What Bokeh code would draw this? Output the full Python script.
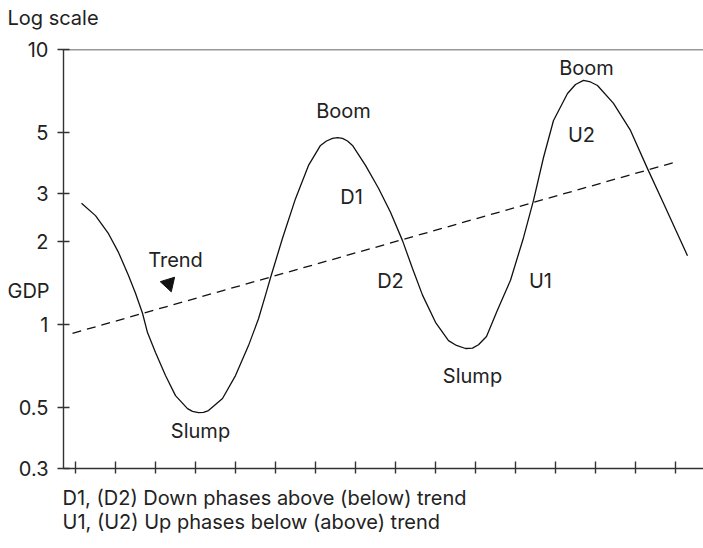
from bokeh.plotting import figure
from bokeh.models import FixedTicker, Span, Label, Range1d
from bokeh.embed import file_html
from bokeh.resources import INLINE

# ---- data (x in time units, y = GDP, log scale) ----
gdp_x = [0.15, 0.5, 0.825, 1.075, 1.325, 1.5, 1.675, 1.8, 2.0, 2.25, 2.5, 2.8, 2.925,
         3.075, 3.2, 3.325, 3.675, 4.0, 4.325, 4.575, 4.75, 4.875, 5.175, 5.5, 5.825,
         6.125, 6.275, 6.425, 6.55, 6.675, 6.8, 6.925, 7.25, 7.575, 7.875, 8.175, 8.425,
         8.675, 9.0, 9.325, 9.525, 9.75, 9.925, 10.075, 10.275, 10.55, 10.875, 11.2,
         11.45, 11.7, 11.95, 12.3, 12.5, 12.7, 12.875, 13.05, 13.45, 13.875, 14.3, 14.7,
         15.3]
gdp_y = [2.76, 2.49, 2.14, 1.83, 1.51, 1.30, 1.10, 0.936, 0.792, 0.653, 0.552, 0.495, 0.484,
         0.479, 0.480, 0.487, 0.539, 0.653, 0.839, 1.05, 1.28, 1.48, 2.06, 2.87, 3.79,
         4.48, 4.65, 4.75, 4.78, 4.75, 4.65, 4.48, 3.79, 3.13, 2.56, 2.02, 1.60,
         1.28, 1.02, 0.875, 0.840, 0.819, 0.822, 0.845, 0.905, 1.13, 1.45, 2.07,
         2.83, 4.05, 5.52, 6.92, 7.46, 7.72, 7.62, 7.40, 6.37, 5.08, 3.69, 2.76,
         1.78]

trend_x = [-0.075, 14.95]
trend_y = [0.93, 3.88]

y_ticks = [0.3, 0.5, 1, 2, 3, 5, 10]
y_tick_labels = ["0.3", "0.5", "1", "2", "3", "5", "10"]
x_ticks = [0, 1, 2, 3, 4, 5, 6, 7, 8, 9, 10, 11, 12, 13, 14, 15]

arrow_x = [2.33]
arrow_y = [1.41]

# annotation texts inside the plot and their anchor points (data units)
notes_text = ["Trend", "Boom", "Boom", "Slump", "Slump", "D1", "D2", "U1", "U2"]
notes_x = [2.5, 6.7, 12.775, 3.125, 9.925, 6.9, 7.875, 11.625, 12.65]
notes_y = [1.718, 6.00, 8.53, 0.409, 0.653, 2.90, 1.435, 1.435, 4.87]

FONT = "Inter"
FS = "20px"
INK = "#222222"

p = figure(width=703, height=548, y_axis_type="log",
           x_range=Range1d(-0.3, 15.7), y_range=Range1d(0.3, 10),
           output_backend="svg", toolbar_location=None,
           min_border_left=63, min_border_right=0,
           min_border_top=49, min_border_bottom=80)
p.outline_line_color = None
p.xgrid.visible = False
p.ygrid.visible = False
p.background_fill_color = "white"

# axes
p.yaxis.ticker = FixedTicker(ticks=y_ticks)
p.yaxis.major_label_overrides = dict(zip(y_ticks, y_tick_labels))
p.yaxis.minor_tick_line_color = None
p.yaxis.major_tick_in = 6
p.yaxis.major_tick_out = 6
p.yaxis.major_label_standoff = 9
p.yaxis.major_label_text_font = FONT
p.yaxis.major_label_text_font_size = FS
p.yaxis.major_label_text_color = INK

p.xaxis.ticker = FixedTicker(ticks=x_ticks)
p.xaxis.minor_tick_line_color = None
p.xaxis.major_tick_in = 7
p.xaxis.major_tick_out = 5
p.xaxis.major_label_overrides = {t: "" for t in x_ticks}
p.xaxis.major_label_standoff = 0

for ax in (p.xaxis, p.yaxis):
    ax.axis_line_color = "#333333"
    ax.axis_line_width = 1.4
    ax.major_tick_line_color = "#333333"
    ax.major_tick_line_width = 1.4

p.add_layout(Span(location=10, dimension="width", line_color="#333333", line_width=1.4))

# curve and trend
p.line(gdp_x, gdp_y, line_color="#111111", line_width=1.3)
p.line(trend_x, trend_y, line_color="#111111", line_width=1.3, line_dash="9 6")
p.scatter(arrow_x, arrow_y, marker="inverted_triangle", size=15, angle=0.3,
          fill_color="#111111", line_color="#111111")

for t, x, y in zip(notes_text, notes_x, notes_y):
    p.add_layout(Label(x=x, y=y, text=t, text_align="center", text_baseline="middle",
                       text_font=FONT, text_font_size=FS, text_color=INK))

# texts outside the frame (placed in side panels so they are not clipped)
def outer(text, x, y):
    return Label(x=x, y=y, text=text, text_align="left", text_baseline="middle",
                 text_font=FONT, text_font_size=FS, text_color=INK)

p.add_layout(outer("Log scale", -1.7, 13.0), "above")
p.add_layout(outer("GDP", -1.7, 1.325), "below")
p.add_layout(outer("D1, (D2) Down phases above (below) trend", -0.325, 0.235), "below")
p.add_layout(outer("U1, (U2) Up phases below (above) trend", -0.325, 0.191), "below")

open("out.html", "w").write(file_html(p, INLINE))
